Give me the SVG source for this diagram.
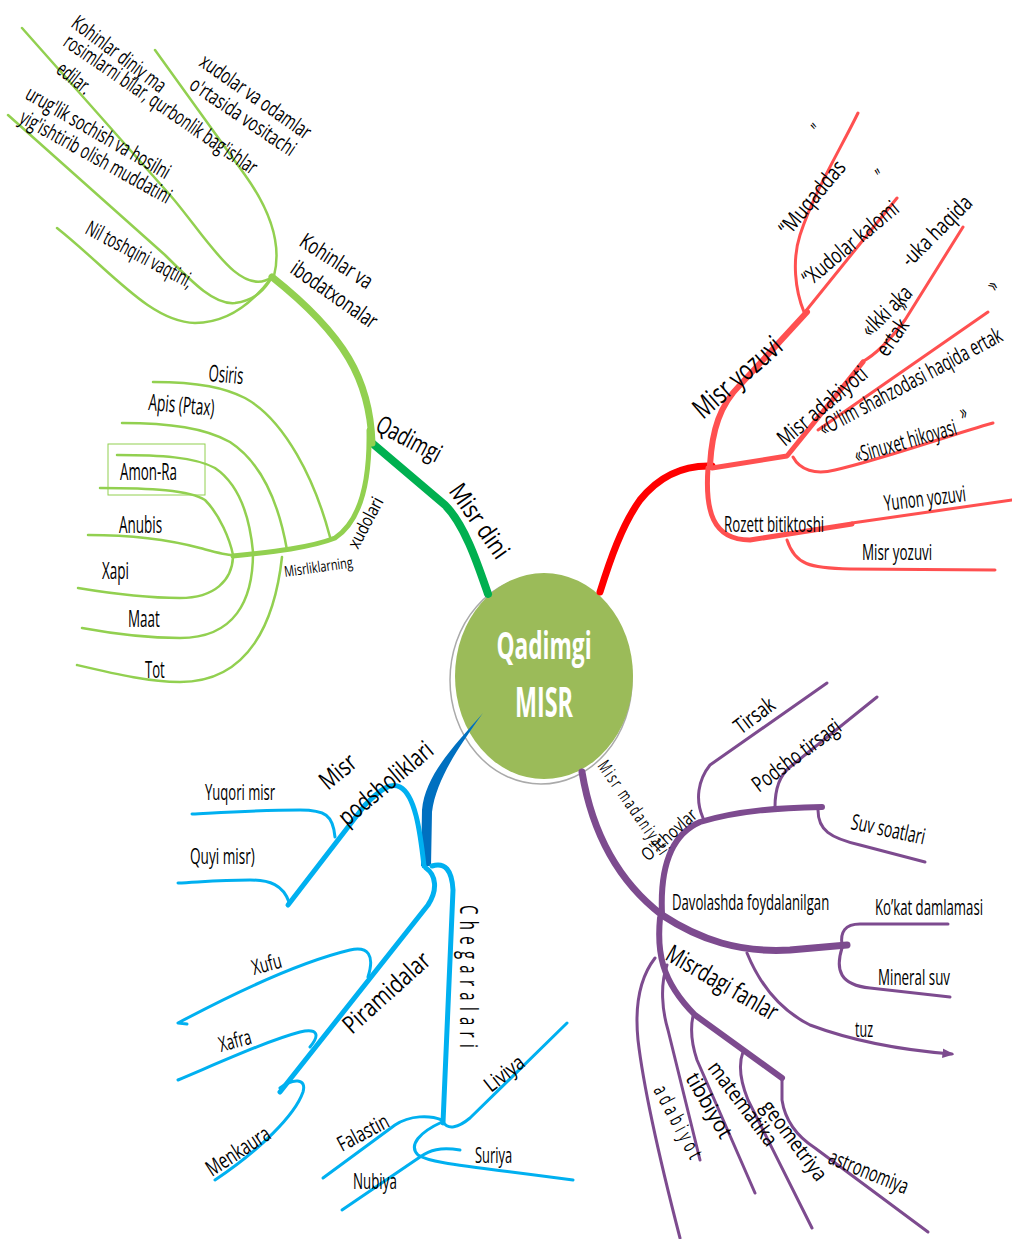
<svg xmlns="http://www.w3.org/2000/svg" width="1012" height="1239" viewBox="0 0 1012 1239">
<style>
.t{font-family:"Open Sans","Noto Sans","Liberation Sans",sans-serif;fill:#000;}
.s13{font-size:15px}.s15{font-size:18px}.s16{font-size:21px}.s17{font-size:22px}.s20{font-size:25px}.s22{font-size:28px}.s21{font-size:23px}
.ln{fill:none;stroke-linecap:round;stroke-linejoin:round}
.g{stroke:#92D050}.dg{stroke:#00B050}.r{stroke:#FF5050}.rr{stroke:#FF0000}.p{stroke:#7D4B8F}.b{stroke:#00B0F0}
.w2{stroke-width:2.5}.w3{stroke-width:3}.w5{stroke-width:5}.w6{stroke-width:6}.w7{stroke-width:7}.w8{stroke-width:8}
</style>
<defs>
  <marker id="arr" viewBox="0 0 10 10" refX="8" refY="5" markerWidth="4" markerHeight="4" orient="auto">
    <path d="M0,1 L10,5 L0,9 Z" fill="#7D4B8F"/>
  </marker>
</defs>
<rect width="1012" height="1239" fill="#fff"/>
<g id="center">
  <ellipse cx="541" cy="680" rx="91" ry="104" fill="#fff" stroke="#aaa" stroke-width="1.5"/>
  <ellipse cx="544" cy="676" rx="89" ry="103" fill="#9BBB59"/>
  <text class="t" transform="translate(544,659) scale(0.7,1)" font-size="38" font-weight="bold" style="fill:#fff" text-anchor="middle" textLength="136" lengthAdjust="spacingAndGlyphs">Qadimgi</text>
  <text class="t" transform="translate(544,717) scale(0.7,1)" font-size="42" font-weight="bold" style="fill:#fff" text-anchor="middle" textLength="83" lengthAdjust="spacingAndGlyphs">MISR</text>
</g>
<g id="connectors">
  <!-- green -->
  <path class="ln dg w8" d="M488,594 C478,565 465,525 445,505 L372,443"/>
  <path class="ln g w7" d="M372,443 C370,380 345,335 272,277"/>
  <path class="ln g w5" d="M369,430 C370,480 362,520 335,538 C310,548 270,552 233,556"/>
  <path class="ln g w2" d="M155,50 L245,175 C270,210 282,245 274,276"/>
  <path class="ln g w2" d="M22,28 L170,195 C205,235 240,300 272,277"/>
  <path class="ln g w2" d="M8,115 L165,255 C195,285 215,305 235,303 C255,300 265,290 272,277"/>
  <path class="ln g w2" d="M57,228 C110,270 150,322 195,323 C230,323 255,300 272,277"/>
  <path class="ln g w2" d="M153,382 C200,382 225,388 245,398 C285,420 315,480 330,537"/>
  <path class="ln g w2" d="M122,423 C170,423 205,428 230,442 C265,465 280,510 287,550"/>
  <path class="ln g w2" d="M117,455 C160,455 195,457 215,468 C240,485 250,520 253,552"/>
  <path class="ln g w2" d="M100,488 C150,488 190,490 205,500 C220,515 230,540 233,555"/>
  <path class="ln g w2" d="M88,535 C130,535 170,540 200,548 C215,552 225,555 233,555"/>
  <path class="ln g w2" d="M78,588 C120,595 150,598 180,598 C215,598 232,580 233,557"/>
  <path class="ln g w2" d="M82,628 C120,635 150,638 180,638 C235,638 253,600 253,553"/>
  <path class="ln g w2" d="M77,665 C120,675 150,682 180,682 C250,682 275,620 282,557"/>
  <!-- red -->
  <path class="ln rr w7" d="M600,592 C610,560 622,525 640,500 C660,475 685,465 712,466"/>
  <path class="ln r w6" d="M710,465 C712,430 720,405 740,385 L807,312"/>
  <path class="ln r w3" d="M804,312 C795,290 792,260 800,235 C815,190 840,150 858,113"/>
  <path class="ln r w3" d="M805,312 L897,198"/>
  <path class="ln r w5" d="M712,468 L787,456 L863,362"/>
  <path class="ln r w3" d="M862,362 C875,355 890,340 905,320 L963,227"/>
  <path class="ln r w3" d="M818,430 L988,312"/>
  <path class="ln r w3" d="M793,457 C800,470 815,475 835,470 C880,460 950,435 993,423"/>
  <path class="ln r w5" d="M708,468 C705,510 712,540 750,540 L852,524"/>
  <path class="ln r w3" d="M852,523 L1012,500"/>
  <path class="ln r w3" d="M787,540 C795,565 810,568 850,569 L995,570"/>
  <!-- purple -->
  <path class="ln p w7" d="M582,772 C590,820 610,875 662,915 C700,940 740,953 790,950 L847,945"/>
  <path class="ln p w6" d="M662,914 C660,870 670,835 700,822 C740,810 780,808 822,807"/>
  <path class="ln p w3" d="M703,818 C695,800 698,780 710,765 L827,683"/>
  <path class="ln p w3" d="M775,807 C775,790 780,775 790,767 L877,697"/>
  <path class="ln p w3" d="M818,810 C818,830 830,838 860,845 L925,862"/>
  <path class="ln p w3" d="M842,945 C840,932 845,924 860,924 L948,924"/>
  <path class="ln p w3" d="M842,948 C835,970 840,985 870,988 L950,997"/>
  <path class="ln p w3" d="M747,953 C760,985 780,1010 810,1025 C850,1040 900,1050 952,1054" marker-end="url(#arr)"/>
  <path class="ln p w6" d="M660,918 C657,950 660,980 695,1015 L782,1078"/>
  <path class="ln p w3" d="M782,1078 L782,1100 C785,1120 795,1135 815,1148 L928,1232"/>
  <path class="ln p w3" d="M743,1052 C738,1065 740,1080 748,1100 L812,1228"/>
  <path class="ln p w3" d="M693,1016 C690,1030 692,1045 697,1060 L755,1193"/>
  <path class="ln p w3" d="M667,965 C660,985 662,1010 668,1030 L700,1160"/>
  <path class="ln p w3" d="M655,958 C638,980 635,1010 638,1040 C645,1100 665,1180 680,1238"/>
  <!-- blue -->
  <path fill="#0070C0" d="M483,713 C455,745 425,775 422,810 L421,866 L431,866 L432,812 C436,780 458,748 483,713 Z"/>
  <path class="ln b w5" d="M424,866 C420,830 415,795 400,787 C390,782 380,790 365,805 L288,905"/>
  <path class="ln b w3" d="M335,837 C333,815 325,810 300,810 C260,810 230,812 192,814"/>
  <path class="ln b w3" d="M289,902 C283,885 270,880 250,880 C220,880 200,882 178,883"/>
  <path class="ln b w5" d="M426,868 C436,875 438,890 428,905 L280,1092"/>
  <path class="ln b w3" d="M368,977 C375,955 368,946 350,950 C300,962 240,990 178,1023 L187,1024"/>
  <path class="ln b w3" d="M310,1047 C320,1035 318,1028 300,1032 C270,1040 230,1058 178,1080"/>
  <path class="ln b w3" d="M280,1088 C293,1078 307,1078 303,1092 C295,1115 260,1150 215,1180"/>
  <path class="ln b w5" d="M432,866 C445,862 452,870 453,890 L443,1123"/>
  <path class="ln b w3" d="M443,1122 C448,1130 458,1128 470,1118 L567,1023"/>
  <path class="ln b w3" d="M442,1120 C430,1115 410,1115 395,1125 L323,1178"/>
  <path class="ln b w3" d="M442,1122 C420,1132 408,1145 418,1155 C430,1163 460,1165 573,1180"/>
  <path class="ln b w3" d="M460,1150 C440,1147 430,1150 420,1157 L342,1210"/>
</g>
<g id="misr-dini">
  <text class="t s20" transform="translate(374,430) rotate(28) scale(0.6,1)" textLength="117" lengthAdjust="spacingAndGlyphs">Qadimgi</text>
  <text class="t s20" transform="translate(448,491) rotate(55) scale(0.6,1)" textLength="142" lengthAdjust="spacingAndGlyphs">Misr dini</text>
</g>
<g id="kohinlar">
  <text class="t s17" transform="translate(298,245) rotate(33) scale(0.6,1)" textLength="137" lengthAdjust="spacingAndGlyphs">Kohinlar va</text>
  <text class="t s17" transform="translate(289,272) rotate(35) scale(0.6,1)" textLength="167" lengthAdjust="spacingAndGlyphs">ibodatxonalar</text>
</g>
<g id="kohin-leaf1">
  <text class="t s16" transform="translate(70,26) rotate(37) scale(0.6,1)" textLength="187" lengthAdjust="spacingAndGlyphs">Kohinlar diniy ma</text>
  <text class="t s16" transform="translate(62,45) rotate(34.5) scale(0.6,1)" textLength="383" lengthAdjust="spacingAndGlyphs">rosimlarni bilar, qurbonlik bag'ishlar</text>
  <text class="t s16" transform="translate(55,72) rotate(38) scale(0.6,1)" textLength="63" lengthAdjust="spacingAndGlyphs">edilar.</text>
</g>
<g id="kohin-leaf2">
  <text class="t s16" transform="translate(198,65) rotate(35) scale(0.6,1)" textLength="218" lengthAdjust="spacingAndGlyphs">xudolar va odamlar</text>
  <text class="t s16" transform="translate(188,88) rotate(34) scale(0.6,1)" textLength="205" lengthAdjust="spacingAndGlyphs">o'rtasida vositachi</text>
</g>
<g id="kohin-leaf3">
  <text class="t s16" transform="translate(24,98) rotate(30) scale(0.6,1)" textLength="272" lengthAdjust="spacingAndGlyphs">urug'lik sochish va hosilni</text>
  <text class="t s16" transform="translate(18,122) rotate(29) scale(0.6,1)" textLength="283" lengthAdjust="spacingAndGlyphs">yig'ishtirib olish muddatini</text>
</g>
<g id="kohin-leaf4">
  <text class="t s16" transform="translate(84,233) rotate(28) scale(0.6,1)" textLength="197" lengthAdjust="spacingAndGlyphs">Nil toshqini vaqtini,</text>
</g>
<g id="xudolar">
  <text class="t s13" transform="translate(285,577) rotate(-8) scale(0.6,1)" textLength="115" lengthAdjust="spacingAndGlyphs">Misrliklarning</text>
  <text class="t s15" transform="translate(358,550) rotate(-62) scale(0.6,1)" textLength="92" lengthAdjust="spacingAndGlyphs">xudolari</text>
</g>
<g id="osiris"><text class="t s21" transform="translate(208,381) rotate(5) scale(0.6,1)" textLength="58" lengthAdjust="spacingAndGlyphs">Osiris</text></g>
<g id="apis"><text class="t s21" transform="translate(148,410) rotate(5) scale(0.6,1)" textLength="110" lengthAdjust="spacingAndGlyphs">Apis (Ptax)</text></g>
<g id="amon-ra">
  <rect x="108" y="444" width="97" height="51" fill="none" stroke="#92D050" stroke-width="1"/>
  <text class="t s21" transform="translate(120,480) scale(0.6,1)" textLength="95" lengthAdjust="spacingAndGlyphs">Amon-Ra</text>
</g>
<g id="anubis"><text class="t s21" transform="translate(119,533) scale(0.6,1)" textLength="72" lengthAdjust="spacingAndGlyphs">Anubis</text></g>
<g id="xapi"><text class="t s21" transform="translate(102,579) scale(0.6,1)" textLength="45" lengthAdjust="spacingAndGlyphs">Xapi</text></g>
<g id="maat"><text class="t s21" transform="translate(128,627) scale(0.6,1)" textLength="53" lengthAdjust="spacingAndGlyphs">Maat</text></g>
<g id="tot"><text class="t s21" transform="translate(145,678) scale(0.6,1)" textLength="33" lengthAdjust="spacingAndGlyphs">Tot</text></g>
<g id="misr-yozuvi">
  <text class="t s22" transform="translate(703,420) rotate(-41) scale(0.6,1)" textLength="180" lengthAdjust="spacingAndGlyphs">Misr yozuvi</text>
</g>
<g id="muqaddas">
  <text class="t s17" transform="translate(789,237) rotate(-50) scale(0.6,1)" textLength="150" lengthAdjust="spacingAndGlyphs">“Muqaddas</text>
  <text class="t s17" transform="translate(822,136) rotate(-50) scale(0.6,1)">”</text>
</g>
<g id="xudolar-kalomi">
  <text class="t s17" transform="translate(810,287) rotate(-40) scale(0.6,1)" textLength="197" lengthAdjust="spacingAndGlyphs">“Xudolar kalomi</text>
  <text class="t s17" transform="translate(884,183) rotate(-40) scale(0.6,1)">”</text>
</g>
<g id="misr-adabiyoti">
  <text class="t s17" transform="translate(785,447) rotate(-40) scale(0.6,1)" textLength="183" lengthAdjust="spacingAndGlyphs">Misr adabiyoti</text>
</g>
<g id="ikki-aka">
  <text class="t s17" transform="translate(870,338) rotate(-45) scale(0.6,1)" textLength="103" lengthAdjust="spacingAndGlyphs">«Ikki aka</text>
  <text class="t s17" transform="translate(910,268) rotate(-45) scale(0.6,1)" textLength="150" lengthAdjust="spacingAndGlyphs">-uka  haqida</text>
  <text class="t s17" transform="translate(887,358) rotate(-55) scale(0.6,1)" textLength="67" lengthAdjust="spacingAndGlyphs">ertak</text>
  <text class="t s17" transform="translate(906,312) rotate(-55) scale(0.6,1)">»</text>
  <text class="t s17" transform="translate(996,292) rotate(-55) scale(0.6,1)">»</text>
</g>
<g id="olim">
  <text class="t s17" transform="translate(824,436) rotate(-28) scale(0.6,1)" textLength="340" lengthAdjust="spacingAndGlyphs">«O'lim shahzodasi haqida ertak</text>
</g>
<g id="sinuxet">
  <text class="t s17" transform="translate(857,463) rotate(-16) scale(0.6,1)" textLength="175" lengthAdjust="spacingAndGlyphs">«Sinuxet hikoyasi</text>
  <text class="t s17" transform="translate(962,420) rotate(-16) scale(0.6,1)">»</text>
</g>
<g id="rozett"><text class="t s17" transform="translate(724,532) scale(0.6,1)" textLength="167" lengthAdjust="spacingAndGlyphs">Rozett bitiktoshi</text></g>
<g id="yunon"><text class="t s17" transform="translate(885,511) rotate(-7) scale(0.6,1)" textLength="137" lengthAdjust="spacingAndGlyphs">Yunon yozuvi</text></g>
<g id="misr-yozuvi-2"><text class="t s17" transform="translate(862,560) scale(0.6,1)" textLength="117" lengthAdjust="spacingAndGlyphs">Misr yozuvi</text></g>
<g id="misr-madaniyati">
  <text class="t s15" transform="translate(597,766) rotate(55) scale(0.6,1)" textLength="183" lengthAdjust="spacing">Misr madaniyati</text>
</g>
<g id="olchovlar"><text class="t s15" transform="translate(648,862) rotate(-42) scale(0.6,1)" textLength="113" lengthAdjust="spacingAndGlyphs">O'lchovlar</text></g>
<g id="tirsak"><text class="t s17" transform="translate(741,735) rotate(-37) scale(0.6,1)" textLength="75" lengthAdjust="spacingAndGlyphs">Tirsak</text></g>
<g id="podsho"><text class="t s17" transform="translate(759,793) rotate(-37) scale(0.6,1)" textLength="175" lengthAdjust="spacingAndGlyphs">Podsho tirsagi</text></g>
<g id="suv-soatlari"><text class="t s17" transform="translate(850,829) rotate(12) scale(0.6,1)" textLength="125" lengthAdjust="spacingAndGlyphs">Suv soatlari</text></g>
<g id="davolashda"><text class="t s17" transform="translate(672,910) scale(0.6,1)" textLength="262" lengthAdjust="spacingAndGlyphs">Davolashda foydalanilgan</text></g>
<g id="kokat"><text class="t s17" transform="translate(875,915) scale(0.6,1)" textLength="180" lengthAdjust="spacingAndGlyphs">Ko’kat damlamasi</text></g>
<g id="mineral"><text class="t s17" transform="translate(878,985) scale(0.6,1)" textLength="120" lengthAdjust="spacingAndGlyphs">Mineral suv</text></g>
<g id="tuz"><text class="t s17" transform="translate(855,1037) scale(0.6,1)" textLength="30" lengthAdjust="spacingAndGlyphs">tuz</text></g>
<g id="fanlar"><text class="t s20" transform="translate(664,959) rotate(30) scale(0.6,1)" textLength="208" lengthAdjust="spacingAndGlyphs">Misrdagi fanlar</text></g>
<g id="adabiyot"><text class="t s16" transform="translate(653,1090) rotate(62) scale(0.6,1)" textLength="133" lengthAdjust="spacing">adabiyot</text></g>
<g id="tibbiyot"><text class="t s16" transform="translate(685,1078) rotate(60) scale(0.6,1)" textLength="120" lengthAdjust="spacingAndGlyphs">tibbiyot</text></g>
<g id="matematika"><text class="t s16" transform="translate(707,1068) rotate(53) scale(0.6,1)" textLength="167" lengthAdjust="spacingAndGlyphs">matematika</text></g>
<g id="geometriya"><text class="t s16" transform="translate(760,1107) rotate(53) scale(0.6,1)" textLength="158" lengthAdjust="spacingAndGlyphs">geometriya</text></g>
<g id="astronomiya"><text class="t s17" transform="translate(827,1163) rotate(22) scale(0.6,1)" textLength="140" lengthAdjust="spacingAndGlyphs">astronomiya</text></g>
<g id="podsholiklar">
  <text class="t s20" transform="translate(328,791) rotate(-40) scale(0.6,1)" textLength="67" lengthAdjust="spacingAndGlyphs">Misr</text>
  <text class="t s20" transform="translate(347,827) rotate(-40) scale(0.6,1)" textLength="192" lengthAdjust="spacingAndGlyphs">podsholiklari</text>
</g>
<g id="yuqori"><text class="t s16" transform="translate(205,800) scale(0.6,1)" textLength="117" lengthAdjust="spacingAndGlyphs">Yuqori misr</text></g>
<g id="quyi"><text class="t s16" transform="translate(190,864) scale(0.6,1)" textLength="108" lengthAdjust="spacingAndGlyphs">Quyi misr)</text></g>
<g id="piramidalar"><text class="t s20" transform="translate(352,1035) rotate(-42) scale(0.6,1)" textLength="180" lengthAdjust="spacingAndGlyphs">Piramidalar</text></g>
<g id="xufu"><text class="t s16" transform="translate(254,975) rotate(-15) scale(0.6,1)" textLength="50" lengthAdjust="spacingAndGlyphs">Xufu</text></g>
<g id="xafra"><text class="t s16" transform="translate(221,1052) rotate(-15) scale(0.6,1)" textLength="55" lengthAdjust="spacingAndGlyphs">Xafra</text></g>
<g id="menkaura"><text class="t s17" transform="translate(212,1177) rotate(-33) scale(0.6,1)" textLength="120" lengthAdjust="spacingAndGlyphs">Menkaura</text></g>
<g id="chegaralari"><text class="t s20" transform="translate(460,905) rotate(90) scale(0.6,1)" textLength="238" lengthAdjust="spacing">Chegaralari</text></g>
<g id="falastin"><text class="t s16" transform="translate(342,1152) rotate(-28) scale(0.6,1)" textLength="92" lengthAdjust="spacingAndGlyphs">Falastin</text></g>
<g id="nubiya"><text class="t s16" transform="translate(353,1189) scale(0.6,1)" textLength="73" lengthAdjust="spacingAndGlyphs">Nubiya</text></g>
<g id="suriya"><text class="t s16" transform="translate(475,1163) scale(0.6,1)" textLength="62" lengthAdjust="spacingAndGlyphs">Suriya</text></g>
<g id="liviya"><text class="t s16" transform="translate(491,1093) rotate(-38) scale(0.6,1)" textLength="75" lengthAdjust="spacingAndGlyphs">Liviya</text></g>
</svg>
